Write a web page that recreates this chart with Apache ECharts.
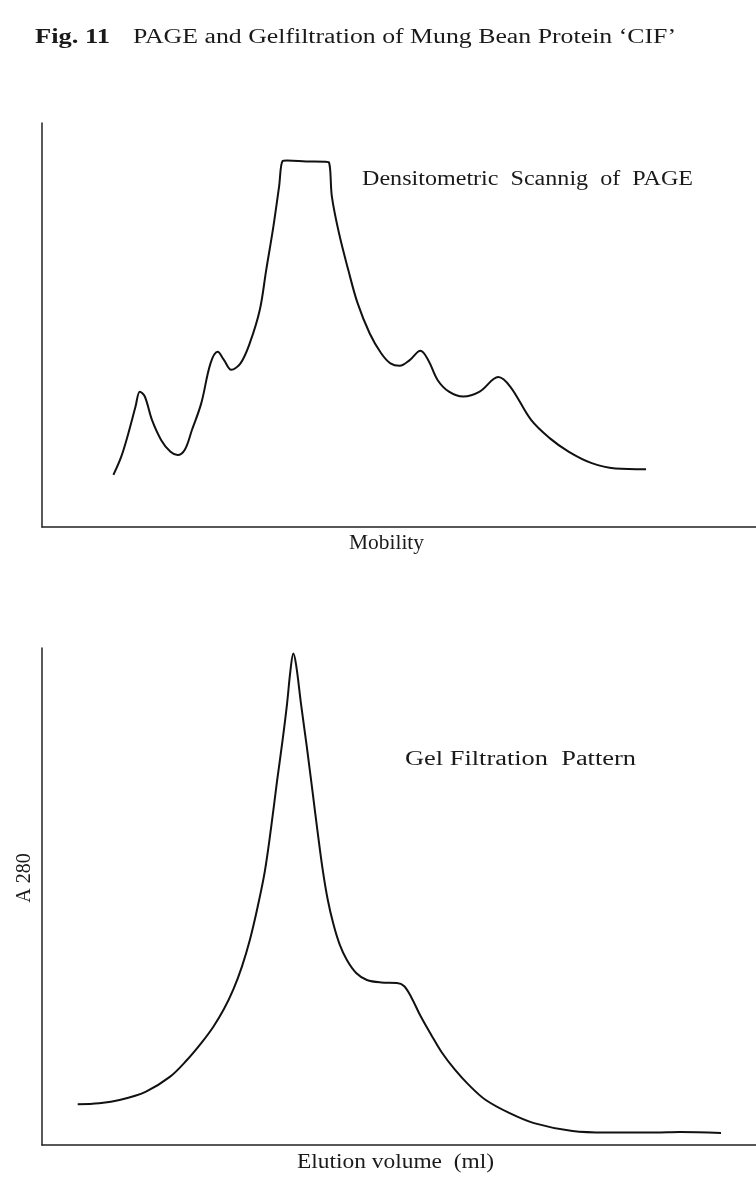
<!DOCTYPE html>
<html>
<head>
<meta charset="utf-8">
<script src="https://cdn.jsdelivr.net/npm/echarts@6/dist/echarts.min.js"></script>
<style>
html,body{margin:0;padding:0;background:#fff;}
#c{width:756px;height:1180px;}
</style>
</head>
<body>
<div id="c"></div>
<script>
// Upper panel: densitometric scan of PAGE (relative mobility, relative density)
const pageMobility = [10.0,11.1,12.1,13.1,13.7,14.4,15.4,16.7,18.0,19.0,20.0,21.0,22.3,23.6,24.6,25.5,26.5,27.8,29.1,30.5,31.4,32.4,33.2,33.7,34.3,37.0,39.6,40.2,40.6,41.6,42.9,44.2,45.9,47.5,48.8,50.1,51.5,53.0,54.1,55.4,57.0,59.0,61.3,63.9,65.6,68.5,71.1,73.8,77.0,80.3,84.6];
const pageDensity  = [12.9,17.4,23.2,29.8,33.5,32.3,26.5,21.5,18.6,17.8,19.1,24.0,30.6,40.5,43.4,41.3,38.9,40.5,45.5,53.7,63.6,74.3,84.2,90.6,90.7,90.5,90.4,90.2,81.8,72.7,63.6,55.4,47.9,43.0,40.5,39.9,41.3,43.6,41.3,36.4,33.5,32.3,33.5,37.1,34.7,26.5,22.0,18.6,15.8,14.5,14.3];

// Lower panel: gel filtration pattern (relative elution volume, relative A280)
const elutionVolume = [5.0,8.0,11.0,14.5,17.9,20.3,22.3,24.0,25.5,26.8,28.0,29.1,30.2,31.2,32.1,32.9,33.7,34.3,34.8,35.2,35.6,36.3,37.1,37.9,38.6,39.3,40.0,40.8,41.7,42.7,44.0,45.5,47.5,49.7,50.7,51.7,53.0,54.5,56.0,57.8,59.7,62.1,65.5,68.9,74.3,79.1,85.9,89.3,95.1];
const a280 = [8.2,8.4,9.1,10.7,13.7,17.1,20.5,23.8,27.4,31.3,35.9,41.2,47.9,55.0,64.0,73.0,81.5,88.5,95.5,98.9,96.5,88.5,80.0,71.0,63.0,55.5,49.5,44.5,40.3,37.2,34.6,33.2,32.7,32.6,32.0,29.8,26.0,22.2,18.6,15.2,12.2,9.1,6.4,4.4,2.8,2.5,2.5,2.6,2.4];

const titleBold = 'Fig. 11';
const titleRest = 'PAGE and Gelfiltration of Mung Bean Protein \u2018CIF\u2019';
const topLabel = 'Densitometric  Scannig  of  PAGE';
const topXName = 'Mobility';
const botLabel = 'Gel Filtration  Pattern';
const botXName = 'Elution volume  (ml)';
const botYName = 'A 280';

const SERIF = '"Liberation Serif","Times New Roman",serif';
const mctx = document.createElement('canvas').getContext('2d');
function textW(t, font){ mctx.font = font; return mctx.measureText(t).width; }
// text stretched to a target width (scanned type is wide-set)
function wideText(t, left, cy, targetW, size, bold){
  const font = (bold ? 'bold ' : '') + size + 'px ' + SERIF;
  const sx = targetW / textW(t, font);
  return { type:'text', x:left, y:cy, scaleX:sx, scaleY:1, silent:true,
    style:{ text:t, font:font, fill:'#1a1a1a', textAlign:'left', textVerticalAlign:'middle', verticalAlign:'middle' } };
}

const axisCommon = {
  type:'value', min:0, max:100,
  axisLine:{ show:true, onZero:false, lineStyle:{ color:'#222', width:1.5 } },
  axisTick:{ show:false }, axisLabel:{ show:false }, splitLine:{ show:false }
};

const chart = echarts.init(document.getElementById('c'), null, { renderer:'canvas' });
chart.setOption({
  animation:false,
  backgroundColor:'#fff',
  grid:[
    { left:42, right:0, top:123, height:404 },
    { left:42, right:0, top:648, height:497 }
  ],
  xAxis:[
    Object.assign({ gridIndex:0 }, axisCommon),
    Object.assign({ gridIndex:1 }, axisCommon)
  ],
  yAxis:[
    Object.assign({ gridIndex:0 }, axisCommon),
    Object.assign({ gridIndex:1 }, axisCommon)
  ],
  series:[
    { type:'line', xAxisIndex:0, yAxisIndex:0, symbol:'none', smooth:0.35,
      lineStyle:{ color:'#111', width:2 },
      data: pageMobility.map((x,i)=>[x, pageDensity[i]]) },
    { type:'line', xAxisIndex:1, yAxisIndex:1, symbol:'none', smooth:0.35,
      lineStyle:{ color:'#111', width:2 },
      data: elutionVolume.map((x,i)=>[x, a280[i]]) }
  ],
  graphic:[
    wideText(titleBold, 35, 38, 75, 20, true),
    wideText(titleRest, 133, 38, 543, 20, false),
    wideText(topLabel, 362, 180, 331, 20, false),
    wideText(topXName, 349, 544, 75, 20, false),
    wideText(botLabel, 405, 760, 231, 20, false),
    wideText(botXName, 297, 1163, 197, 20, false),
    { type:'text', x:25, y:878, rotation:Math.PI/2, silent:true,
      style:{ text:botYName, font:'20px ' + SERIF, fill:'#1a1a1a', textAlign:'center', textVerticalAlign:'middle', verticalAlign:'middle' } }
  ]
});
</script>
</body>
</html>
